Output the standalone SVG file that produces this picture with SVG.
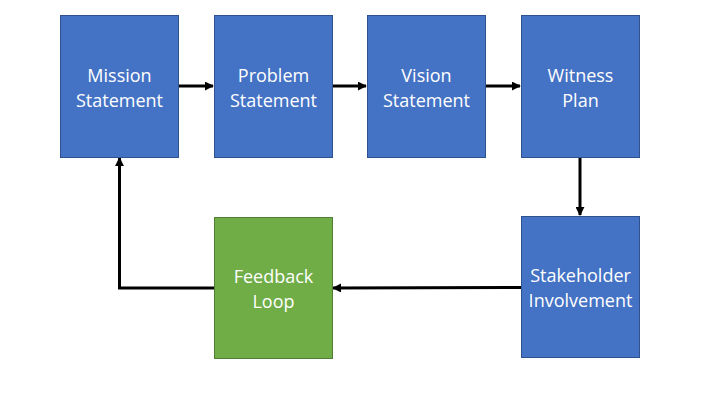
<svg xmlns="http://www.w3.org/2000/svg" width="720" height="405" viewBox="0 0 720 405">
<style>
.blue{fill:#4472C4;stroke:#2F528F;stroke-width:1}
.green{fill:#70AD47;stroke:#507E32;stroke-width:1}
text{font-family:"Open Sans","Liberation Sans",sans-serif;font-size:18px;fill:#fff;text-anchor:middle}
.c{fill:none;stroke:#000;stroke-width:3}
</style>
<defs>
<marker id="ah" viewBox="0 0 10 10" refX="9" refY="5" markerWidth="3" markerHeight="3" orient="auto" markerUnits="strokeWidth">
<path d="M0,0 L10,5 L0,10 z" fill="#000"/>
</marker>
</defs>
<rect width="720" height="405" fill="#fff"/>
<g id="connectors">
<line class="c" x1="179" y1="86" x2="213" y2="86" marker-end="url(#ah)"/>
<line class="c" x1="333" y1="86" x2="366" y2="86" marker-end="url(#ah)"/>
<line class="c" x1="486" y1="86" x2="520" y2="86" marker-end="url(#ah)"/>
<line class="c" x1="580" y1="157" x2="580" y2="215" marker-end="url(#ah)"/>
<line class="c" x1="521" y1="287.5" x2="333" y2="288" marker-end="url(#ah)"/>
<polyline class="c" points="214,288 119.5,288 119.5,158" marker-end="url(#ah)"/>
</g>
<g id="mission"><rect class="blue" x="60.5" y="15.5" width="118" height="142"/><text x="119.5" y="82">Mission</text><text x="119.5" y="107">Statement</text></g>
<g id="problem"><rect class="blue" x="214.5" y="15.5" width="118" height="142"/><text x="273.5" y="82">Problem</text><text x="273.5" y="107">Statement</text></g>
<g id="vision"><rect class="blue" x="367.5" y="15.5" width="118" height="142"/><text x="426.5" y="82">Vision</text><text x="426.5" y="107">Statement</text></g>
<g id="witness"><rect class="blue" x="521.5" y="15.5" width="118" height="142"/><text x="580.5" y="82">Witness</text><text x="580.5" y="107">Plan</text></g>
<g id="stakeholder"><rect class="blue" x="521.5" y="216.5" width="118" height="141"/><text x="580.5" y="282">Stakeholder</text><text x="580.5" y="307">Involvement</text></g>
<g id="feedback"><rect class="green" x="214.5" y="217.5" width="118" height="141"/><text x="273.5" y="283">Feedback</text><text x="273.5" y="308">Loop</text></g>
</svg>
